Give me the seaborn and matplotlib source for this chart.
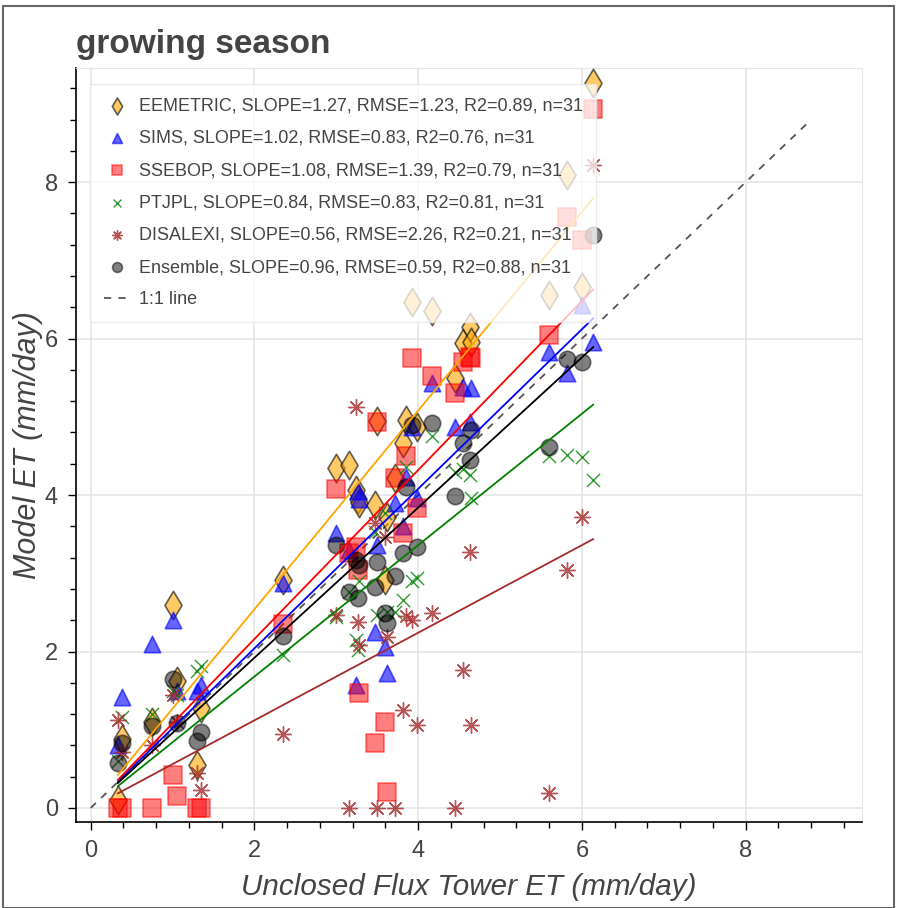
import numpy as np
import pandas as pd
import seaborn as sns
import matplotlib.pyplot as plt
from matplotlib.patches import Rectangle
from matplotlib.ticker import MultipleLocator

# unclosed flux tower ET (x), shared by all models
tower_et = [0.33, 0.38, 0.75, 1.0, 1.05, 1.3, 1.35, 2.35,
            3.0, 3.15, 3.24, 3.26, 3.28, 3.47, 3.5, 3.6, 3.62, 3.72,
            3.82, 3.85, 3.92, 3.98, 4.17, 4.45, 4.55, 4.63, 4.65,
            5.6, 5.82, 6.0, 6.14]

# model ET values
eemetric = [0.1, 0.88, 1.1, 2.6, 1.62, 0.55, 1.28, 2.92,
            4.35, 4.39, 4.07, 3.95, 3.9, 3.87, 4.95, 2.92, 3.72, 4.22,
            4.67, 4.96, 6.47, 4.87, 6.35, 5.5, 5.95, 6.15, 5.96,
            6.56, 8.09, 6.66, 9.27]
sims = [0.8, 1.42, 2.1, 2.4, 1.5, 1.5, 1.57, 2.88,
        3.51, 3.3, 1.57, 4.05, 3.95, 2.25, 3.36, 2.06, 1.72, 3.9,
        3.6, 4.23, 4.87, 3.96, 5.43, 4.87, 5.38, 4.94, 5.37,
        5.83, 5.56, 6.43, 5.96]
ssebop = [0.0, 0.0, 0.0, 0.42, 0.15, 0.0, 0.0, 2.35,
          4.08, 3.26, 3.34, 3.04, 1.47, 0.83, 4.94, 1.1, 0.2, 4.22,
          3.51, 4.5, 5.75, 3.84, 5.52, 5.3, 5.7, 5.77, 5.75,
          6.05, 7.56, 7.26, 8.93]
ptjpl = [0.6, 1.16, 1.2, 1.5, 1.45, 1.75, 1.82, 1.96,
         2.44, 2.76, 2.15, 2.02, 2.9, 3.53, 2.47, 3.77, 2.5, 2.5,
         2.66, 4.36, 2.9, 2.94, 4.75, 4.3, 4.33, 4.26, 3.96,
         4.5, 4.51, 4.49, 4.19]
disalexi = [1.12, 0.72, 0.8, 1.45, 1.1, 0.45, 0.23, 0.95,
            2.47, 0.0, 5.13, 2.38, 2.08, 3.64, 0.0, 3.47, 2.19, 0.0,
            1.25, 2.45, 2.4, 1.06, 2.49, 0.0, 1.76, 3.27, 1.06,
            0.19, 3.04, 3.72, 8.22]
ensemble = [0.57, 0.83, 1.05, 1.65, 1.08, 0.85, 0.97, 2.2,
            3.36, 2.76, 3.17, 2.68, 3.1, 2.83, 3.15, 2.49, 2.37, 2.96,
            3.26, 4.1, 4.9, 3.33, 4.92, 3.99, 4.67, 4.45, 4.83,
            4.62, 5.74, 5.7, 7.33]

models = ['EEMETRIC', 'SIMS', 'SSEBOP', 'PTJPL', 'DISALEXI', 'Ensemble']
slopes = [1.27, 1.02, 1.08, 0.84, 0.56, 0.96]
rmses = [1.23, 0.83, 1.39, 0.83, 2.26, 0.59]
r2s = [0.89, 0.76, 0.79, 0.81, 0.21, 0.88]
one_to_one_max = 8.8

values = [eemetric, sims, ssebop, ptjpl, disalexi, ensemble]

# marker styles, in the same order as models
styles = [
    dict(marker='d', s=210, color='orange', edgecolor='black', alpha=0.6, linewidth=1.2),
    dict(marker='^', s=140, color='blue', edgecolor='blue', alpha=0.6, linewidth=1.2),
    dict(marker='s', s=150, color='red', edgecolor='red', alpha=0.5, linewidth=1.2),
    dict(marker='x', s=90, color='green', alpha=0.8, linewidth=1.0),
    dict(marker=(8, 2, 0), s=130, color='brown', alpha=0.8, linewidth=1.0),
    dict(marker='o', s=140, color='black', edgecolor='black', alpha=0.5, linewidth=1.2),
]
line_colors = ['orange', 'blue', 'red', 'green', 'brown', 'black']

sns.set_style('white')
plt.rcParams['font.family'] = ['Liberation Sans', 'DejaVu Sans']
txt = '#444444'

fig = plt.figure(figsize=(9, 9.08), dpi=100)
ax = fig.add_axes([0.0844, 0.0947, 0.8733, 0.8304])

x = np.array(tower_et)
for name, vals, st, lc, sl, rm, r2 in zip(models, values, styles, line_colors, slopes, rmses, r2s):
    label = f'{name}, SLOPE={sl:.2f}, RMSE={rm:.2f}, R2={r2:.2f}, n={len(vals)}'
    sns.scatterplot(x=x, y=vals, ax=ax, label=label, zorder=3, **st)
    xs = np.array([x.min(), x.max()])
    ax.plot(xs, sl * xs, color=lc, lw=1.3, zorder=4)

ax.plot([0, one_to_one_max], [0, one_to_one_max], color='#555555', lw=1.3,
        ls=(0, (4, 4)), label='1:1 line', zorder=2)

ax.set_xlim(-0.18, 9.42)
ax.set_ylim(-0.18, 9.46)
ax.xaxis.set_major_locator(MultipleLocator(2))
ax.yaxis.set_major_locator(MultipleLocator(2))
ax.xaxis.set_minor_locator(MultipleLocator(0.4))
ax.yaxis.set_minor_locator(MultipleLocator(0.4))
ax.grid(True, which='major', color='#e5e5e5', lw=1.2, zorder=0)
ax.set_axisbelow(True)

for side in ['top', 'right']:
    ax.spines[side].set_color('#e5e5e5')
for side in ['left', 'bottom']:
    ax.spines[side].set_color('black')
    ax.spines[side].set_linewidth(1.2)

ax.tick_params(which='major', direction='out', length=6, width=1, color='black',
               labelsize=17, labelcolor=txt, pad=7)
ax.tick_params(which='minor', direction='out', length=4, width=1, color='black')
ax.tick_params(top=False, right=False, which='both')
ax.tick_params(axis='x', which='both', bottom=True)
ax.tick_params(axis='y', which='both', left=True)

ax.set_xlabel('Unclosed Flux Tower ET (mm/day)', fontsize=21.3, style='italic',
              color=txt, labelpad=8)
ax.set_ylabel('Model ET (mm/day)', fontsize=22, style='italic', color=txt, labelpad=1)
ax.set_title('growing season', loc='left', fontsize=24, fontweight='bold',
             color=txt, pad=11)

leg = ax.legend(loc='upper left', bbox_to_anchor=(0.018, 0.979), borderaxespad=0,
                fontsize=13, frameon=True, fancybox=False, framealpha=0.75,
                edgecolor='#e5e5e5', labelspacing=0.85, handlelength=1.5,
                handletextpad=0.45, borderpad=0.75, markerscale=0.6)
for t in leg.get_texts():
    t.set_color(txt)
leg.set_zorder(10)

# screenshot border
fig.patches.append(Rectangle((0.003, 0.0), 0.99, 0.993, transform=fig.transFigure,
                             fill=False, edgecolor='#666666', lw=1.5))

fig.savefig('out.png', dpi=100)
